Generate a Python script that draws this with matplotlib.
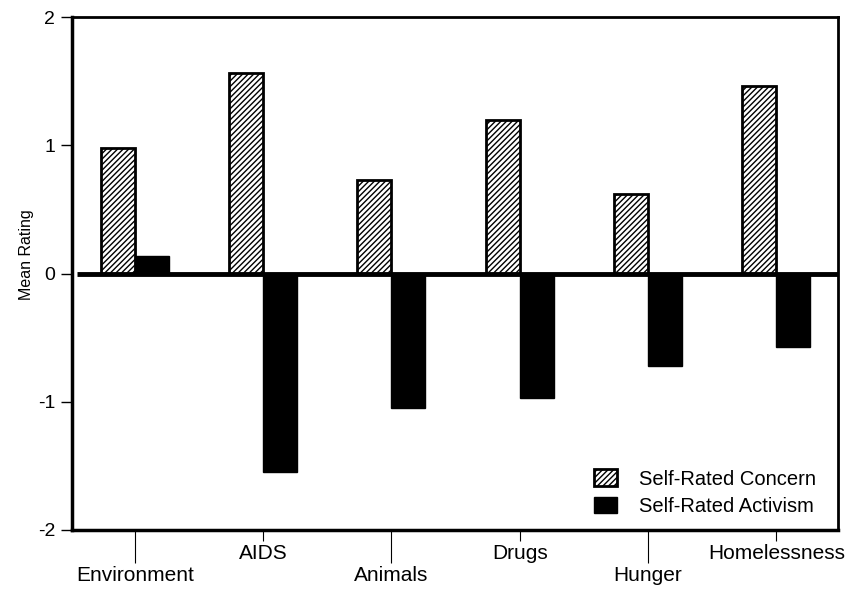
import matplotlib.pyplot as plt
import matplotlib as mpl
import numpy as np

plt.rcParams['font.family'] = ['Liberation Sans', 'DejaVu Sans']
mpl.rcParams['hatch.linewidth'] = 1.0

categories = ["Environment", "AIDS", "Animals", "Drugs", "Hunger", "Homelessness"]
concern = [0.98, 1.56, 0.73, 1.20, 0.62, 1.46]
activism = [0.14, -1.55, -1.05, -0.97, -0.72, -0.57]

x = np.arange(len(categories))
w = 0.265

fig = plt.figure(figsize=(8.46, 5.89), dpi=100)
ax = fig.add_axes([72/846, 1 - 530/589, 766/846, 513/589])

ax.bar(x - w/2, concern, w, color="white", edgecolor="black", hatch="//////",
       linewidth=2, label="Self-Rated Concern")
ax.bar(x + w/2, activism, w, color="black", edgecolor="black",
       linewidth=1, label="Self-Rated Activism")

# zero line
ax.plot([-0.45, 5.48], [0, 0], color="black", linewidth=3.5, solid_capstyle="butt")

ax.set_xlim(-0.49, 5.48)
ax.set_ylim(-2, 2)
ax.set_yticks([-2, -1, 0, 1, 2])
ax.set_yticklabels(["-2", "-1", "0", "1", "2"], fontsize=14)
ax.tick_params(axis="y", direction="out", length=8, width=1, pad=4)
ax.set_ylabel("Mean Rating", fontsize=11.5)
ax.yaxis.set_label_coords(-0.05, 0.536)

# alternating x labels: long ticks for lower row, short for upper row
ax.set_xticks(x[0::2])
ax.set_xticklabels(categories[0::2], fontsize=15)
ax.set_xticks(x[1::2], minor=True)
ax.set_xticklabels(categories[1::2], minor=True, fontsize=15)
ax.tick_params(axis="x", which="major", direction="out", length=24, width=0.8, pad=2)
ax.tick_params(axis="x", which="minor", direction="out", length=8, width=0.8, pad=2)

for side in ["left", "bottom"]:
    ax.spines[side].set_linewidth(2.5)
for side in ["top", "right"]:
    ax.spines[side].set_linewidth(2)

ax.legend(loc="lower right", frameon=False, fontsize=14.5, handlelength=1.15,
          handleheight=0.9, handletextpad=1.1, labelspacing=0.4,
          borderaxespad=0.3, bbox_to_anchor=(0.99, 0.0))

fig.savefig("out.png", dpi=100)
